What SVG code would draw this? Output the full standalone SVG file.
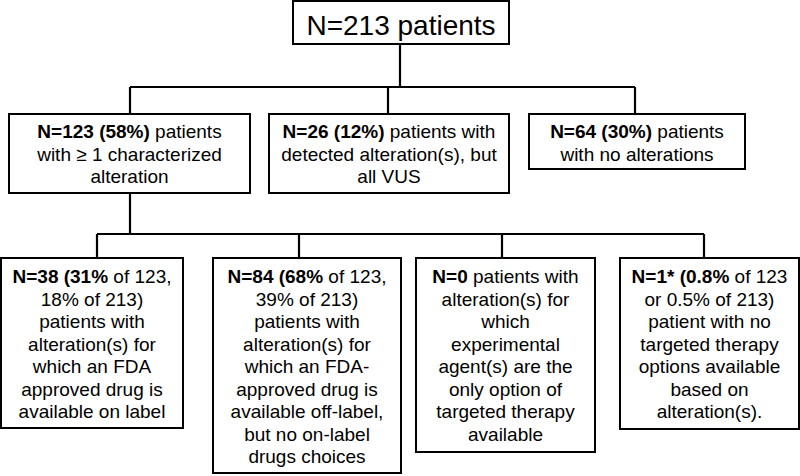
<svg xmlns="http://www.w3.org/2000/svg" width="800" height="476" viewBox="0 0 800 476">
<style>
.box{fill:#fff;stroke:#000;stroke-width:2}
.ln{fill:none;stroke:#000;stroke-width:2.2}
text{font-family:"Liberation Sans",Arial,sans-serif;font-size:19px;fill:#000;text-anchor:middle}
.b{font-weight:bold}
.big{font-size:28px}
</style>
<rect width="800" height="476" fill="#fff"/>
<g id="connectors">
<path class="ln" d="M400 44V87M130 87H635M130 87V114M388 87V114M635 87V114"/>
<path class="ln" d="M130 193V234M97 234H704M97 234V258M299 234V258M502 234V258M704 234V258"/>
</g>
<g id="root">
<rect class="box" x="293" y="1" width="216" height="43"/>
<text class="big" x="401" y="35">N=213 patients</text>
</g>
<g id="n123">
<rect class="box" x="9" y="114" width="241" height="79"/>
<text x="129.5" y="138"><tspan class="b">N=123 (58%)</tspan> patients</text>
<text x="129.5" y="160.5">with ≥ 1 characterized</text>
<text x="129.5" y="183">alteration</text>
</g>
<g id="n26">
<rect class="box" x="269" y="114" width="240" height="79"/>
<text x="389" y="138"><tspan class="b">N=26 (12%)</tspan> patients with</text>
<text x="389" y="160.5">detected alteration(s), but</text>
<text x="389" y="183">all VUS</text>
</g>
<g id="n64">
<rect class="box" x="529" y="114" width="216" height="55"/>
<text x="637" y="138"><tspan class="b">N=64 (30%)</tspan> patients</text>
<text x="637" y="160.5">with no alterations</text>
</g>
<g id="n38">
<rect class="box" x="1" y="258" width="182" height="170"/>
<text x="92" y="283"><tspan class="b">N=38 (31%</tspan> of 123,</text>
<text x="92" y="305.5">18% of 213)</text>
<text x="92" y="328">patients with</text>
<text x="92" y="350.5">alteration(s) for</text>
<text x="92" y="373">which an FDA</text>
<text x="92" y="395.5">approved drug is</text>
<text x="92" y="418">available on label</text>
</g>
<g id="n84">
<rect class="box" x="213" y="258" width="188" height="215"/>
<text x="307" y="283"><tspan class="b">N=84 (68%</tspan> of 123,</text>
<text x="307" y="305.5">39% of 213)</text>
<text x="307" y="328">patients with</text>
<text x="307" y="350.5">alteration(s) for</text>
<text x="307" y="373">which an FDA-</text>
<text x="307" y="395.5">approved drug is</text>
<text x="307" y="418">available off-label,</text>
<text x="307" y="440.5">but no on-label</text>
<text x="307" y="463">drugs choices</text>
</g>
<g id="n0">
<rect class="box" x="416" y="258" width="179" height="194"/>
<text x="505.5" y="283"><tspan class="b">N=0</tspan> patients with</text>
<text x="505.5" y="305.5">alteration(s) for</text>
<text x="505.5" y="328">which</text>
<text x="505.5" y="350.5">experimental</text>
<text x="505.5" y="373">agent(s) are the</text>
<text x="505.5" y="395.5">only option of</text>
<text x="505.5" y="418">targeted therapy</text>
<text x="505.5" y="440.5">available</text>
</g>
<g id="n1">
<rect class="box" x="620" y="258" width="179" height="171"/>
<text x="709.5" y="283"><tspan class="b">N=1* (0.8%</tspan> of 123</text>
<text x="709.5" y="305.5">or 0.5% of 213)</text>
<text x="709.5" y="328">patient with no</text>
<text x="709.5" y="350.5">targeted therapy</text>
<text x="709.5" y="373">options available</text>
<text x="709.5" y="395.5">based on</text>
<text x="709.5" y="418">alteration(s).</text>
</g>
</svg>
